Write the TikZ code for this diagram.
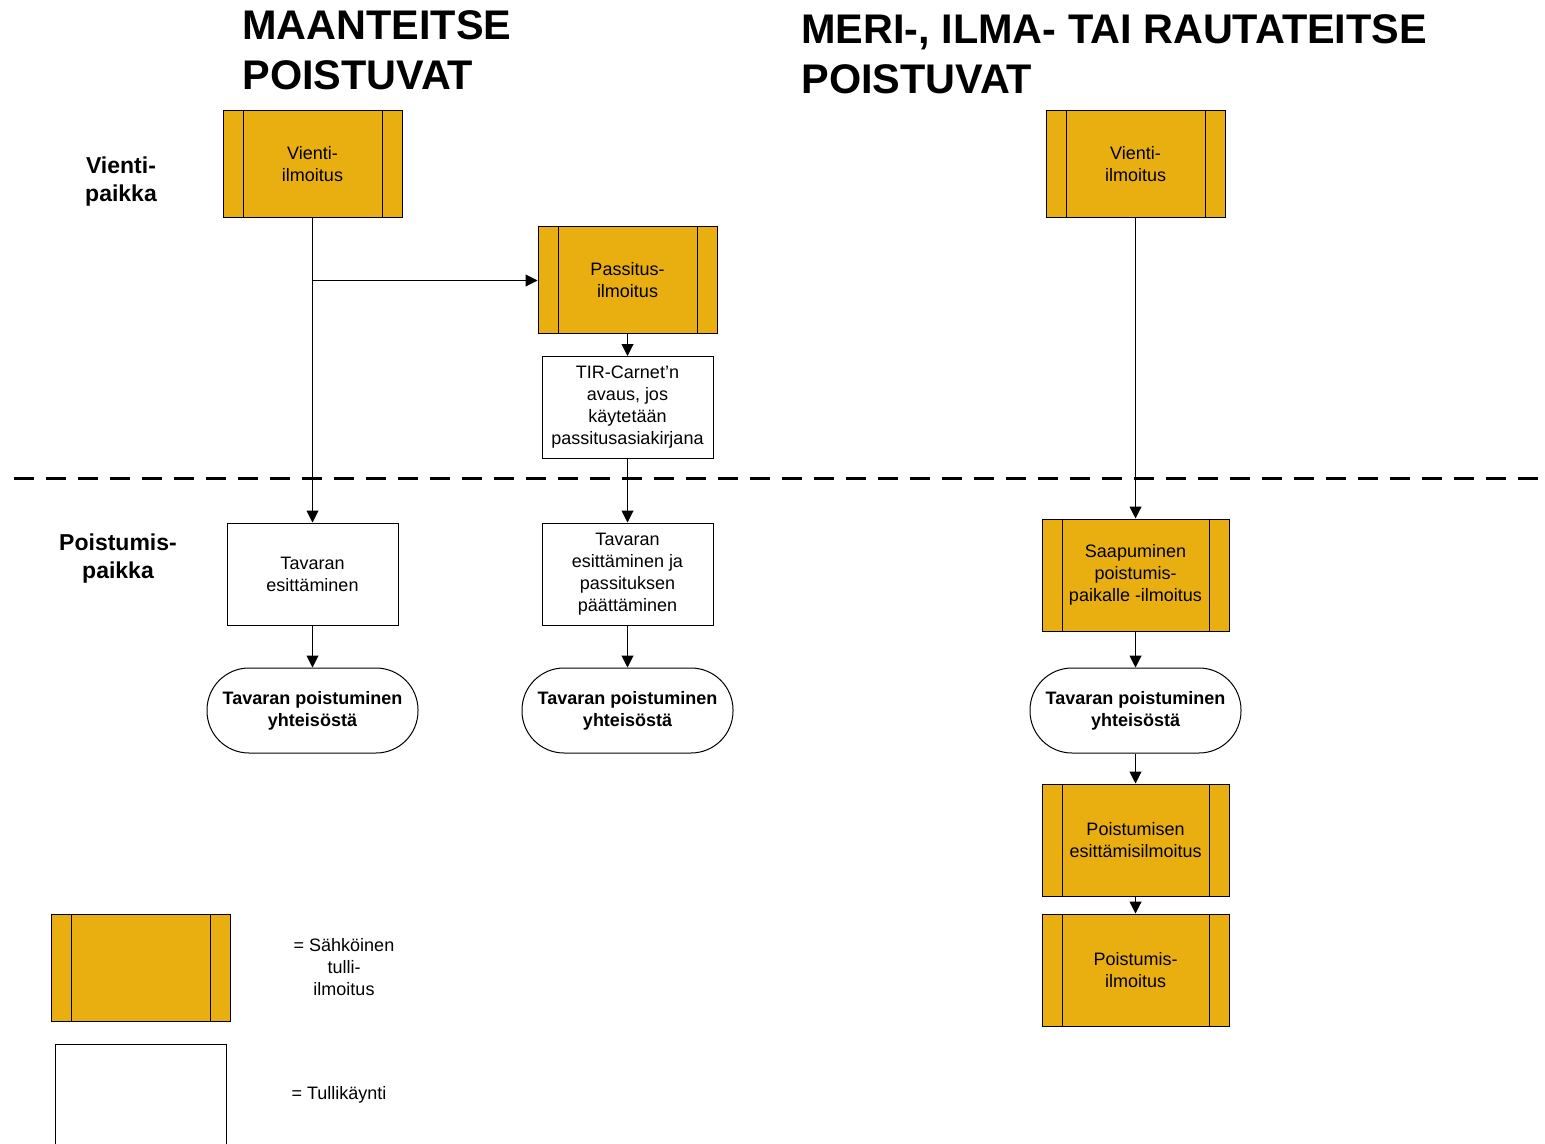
\documentclass[tikz,border=0pt]{standalone}
\usepackage{fontspec}
\usepackage{tikz}
\usepackage{xcolor}
\setmainfont{Liberation Sans}
\usetikzlibrary{calc,arrows.meta}

\definecolor{ilmo}{RGB}{233,175,16}

\begin{document}
\begin{tikzpicture}[x=0.5pt,y=-0.5pt]
    \tikzstyle{every node}=[inner sep=0pt, align=center, font=\fontsize{9}{11}\selectfont]
    \tikzstyle{ilmoitus}=[draw, line width=0.5pt, fill=ilmo, minimum width=89.5pt, minimum height=53.5pt,
        path picture={\draw[line width=0.5pt] ([xshift=10pt]path picture bounding box.north west) -- ([xshift=10pt]path picture bounding box.south west);
                      \draw[line width=0.5pt] ([xshift=-10pt]path picture bounding box.north east) -- ([xshift=-10pt]path picture bounding box.south east);}]
    \tikzstyle{kaynti}=[draw, line width=0.5pt, fill=white, minimum width=85.5pt, minimum height=51pt]
    \tikzstyle{loppu}=[draw, line width=0.5pt, rounded corners=21pt, minimum width=105.5pt, minimum height=42.5pt,
        font=\fontsize{9}{11}\selectfont\bfseries]
    \tikzstyle{pfeil}=[line width=0.5pt, -{Triangle[length=6pt,width=6pt]}]
    \tikzstyle{otsikko}=[anchor=west, align=left, font=\fontsize{20.7}{25}\selectfont\bfseries]
    \tikzstyle{rivi}=[font=\fontsize{11.5}{14}\selectfont\bfseries]

    \clip (0,0) rectangle (1545,1144);

    % Titles
    \node[otsikko] (T1) at (242,50) {MAANTEITSE\\POISTUVAT};
    \node[otsikko] (T2) at (801,54) {MERI-, ILMA- TAI RAUTATEITSE\\POISTUVAT};

    % Row labels
    \node[rivi] (R1) at (121,182) {Vienti-\\paikka};
    \node[rivi] (R2) at (118,559) {Poistumis-\\paikka};

    % Border between places
    \coordinate (X1) at (14,478);
    \coordinate (X2) at (1550,478);
    \draw[line width=1.5pt, dash pattern=on 10pt off 6pt] (X1) -- (X2);

    % Road
    \node[ilmoitus] (A) at (312.5,164.5) {Vienti-\\ilmoitus};
    \node[ilmoitus] (B) at (627.5,280.5) {Passitus-\\ilmoitus};
    \node[kaynti] (C) at (627.5,407.5) {TIR-Carnet'n\\avaus, jos\\käytetään\\passitusasiakirjana};
    \node[kaynti] (D) at (312.5,574) {Tavaran\\esittäminen};
    \node[kaynti] (E) at (627.5,574) {Tavaran\\esittäminen ja\\passituksen\\päättäminen};
    \node[loppu] (F) at (312.5,710.5) {Tavaran poistuminen\\yhteisöstä};
    \node[loppu] (G) at (627.5,710.5) {Tavaran poistuminen\\yhteisöstä};

    \draw[pfeil] (A) -- (D);
    \draw[pfeil] (A.south |- B.west) -- (B.west);
    \draw[pfeil] (B) -- (C);
    \draw[pfeil] (C) -- (E);
    \draw[pfeil] (D) -- (F);
    \draw[pfeil] (E) -- (G);

    % Sea, air or rail
    \node[ilmoitus] (H) at (1135.5,164.5) {Vienti-\\ilmoitus};
    \node[ilmoitus, minimum width=93.5pt, minimum height=56pt] (I) at (1135.5,575) {Saapuminen\\poistumis-\\paikalle -ilmoitus};
    \node[loppu] (J) at (1135.5,710.5) {Tavaran poistuminen\\yhteisöstä};
    \node[ilmoitus, minimum width=93.5pt, minimum height=56pt] (K) at (1135.5,840) {Poistumisen\\esittämisilmoitus};
    \node[ilmoitus, minimum width=93.5pt, minimum height=56pt] (L) at (1135.5,970) {Poistumis-\\ilmoitus};

    \draw[pfeil] (H) -- (I);
    \draw[pfeil] (I) -- (J);
    \draw[pfeil] (J) -- (K);
    \draw[pfeil] (K) -- (L);

    % Legend
    \node[ilmoitus] (M) at (141,967.5) {};
    \node[kaynti, minimum height=53.5pt] (N) at (141,1097.5) {};
    \node (O) at (344,967) {= Sähköinen\\tulli-\\ilmoitus};
    \node (P) at (339,1095) {= Tullikäynti};
\end{tikzpicture}
\end{document}
